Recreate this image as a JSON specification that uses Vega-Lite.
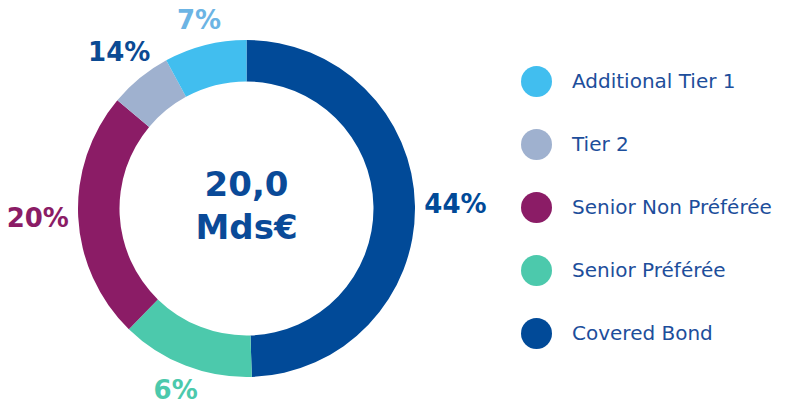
{
  "$schema": "https://vega.github.io/schema/vega-lite/v6.json",
  "autosize": "none",
  "width": 493,
  "height": 417,
  "padding": {"left": 0, "top": 0, "right": 317, "bottom": 0},
  "background": "white",
  "config": {"view": {"stroke": null}, "font": "DejaVu Sans"},
  "datasets": {
    "segments": [
      {"category": "Covered Bond", "share": 49.5, "label": "44%", "rank": 1},
      {"category": "Senior Préférée", "share": 12.8, "label": "6%", "rank": 2},
      {"category": "Senior Non Préférée", "share": 23.8, "label": "20%", "rank": 3},
      {"category": "Tier 2", "share": 6.0, "label": "14%", "rank": 4},
      {"category": "Additional Tier 1", "share": 7.9, "label": "7%", "rank": 5}
    ],
    "total": [{"lines": "20,0\nMds€"}]
  },
  "layer": [
    {
      "data": {"name": "segments"},
      "mark": {"type": "arc", "innerRadius": 127, "outerRadius": 168.5},
      "encoding": {
        "theta": {"field": "share", "type": "quantitative", "stack": true},
        "order": {"field": "rank", "type": "quantitative"},
        "color": {
          "field": "category",
          "type": "nominal",
          "scale": {
            "domain": ["Additional Tier 1", "Tier 2", "Senior Non Préférée", "Senior Préférée", "Covered Bond"],
            "range": ["#41BEEF", "#9FB1CF", "#8B1C66", "#4CC9AC", "#014A98"]
          },
          "legend": {
            "title": null,
            "orient": "none",
            "legendX": 521,
            "legendY": 66,
            "symbolType": "circle",
            "symbolSize": 961,
            "symbolStrokeWidth": 0,
            "symbolOpacity": 1,
            "labelFont": "DejaVu Sans",
            "labelFontSize": 20,
            "labelColor": "#1D4E9B",
            "labelOffset": 20,
            "rowPadding": 32,
            "labelLimit": 300
          }
        }
      }
    },
    {
      "data": {"name": "segments"},
      "mark": {
        "type": "text",
        "radius": {"expr": "188 + 21*abs(sin(PI*(datum.share_start + datum.share_end)/100))"},
        "font": "DejaVu Sans",
        "fontWeight": "bold",
        "fontSize": 26
      },
      "encoding": {
        "theta": {"field": "share", "type": "quantitative", "stack": true},
        "order": {"field": "rank", "type": "quantitative"},
        "text": {"field": "label", "type": "nominal"},
        "color": {
          "field": "category",
          "type": "nominal",
          "scale": {
            "domain": ["Additional Tier 1", "Tier 2", "Senior Non Préférée", "Senior Préférée", "Covered Bond"],
            "range": ["#6CB4E4", "#0B4A93", "#8B1C66", "#4CC9AC", "#014A98"]
          },
          "legend": null
        }
      }
    },
    {
      "data": {"name": "total"},
      "mark": {"type": "text", "font": "DejaVu Sans", "fontWeight": "bold", "fontSize": 34, "lineHeight": 43, "lineBreak": "\n", "color": "#0A4A98", "dy": -23},
      "encoding": {"text": {"field": "lines", "type": "nominal"}}
    }
  ],
  "resolve": {"scale": {"color": "independent"}}
}
